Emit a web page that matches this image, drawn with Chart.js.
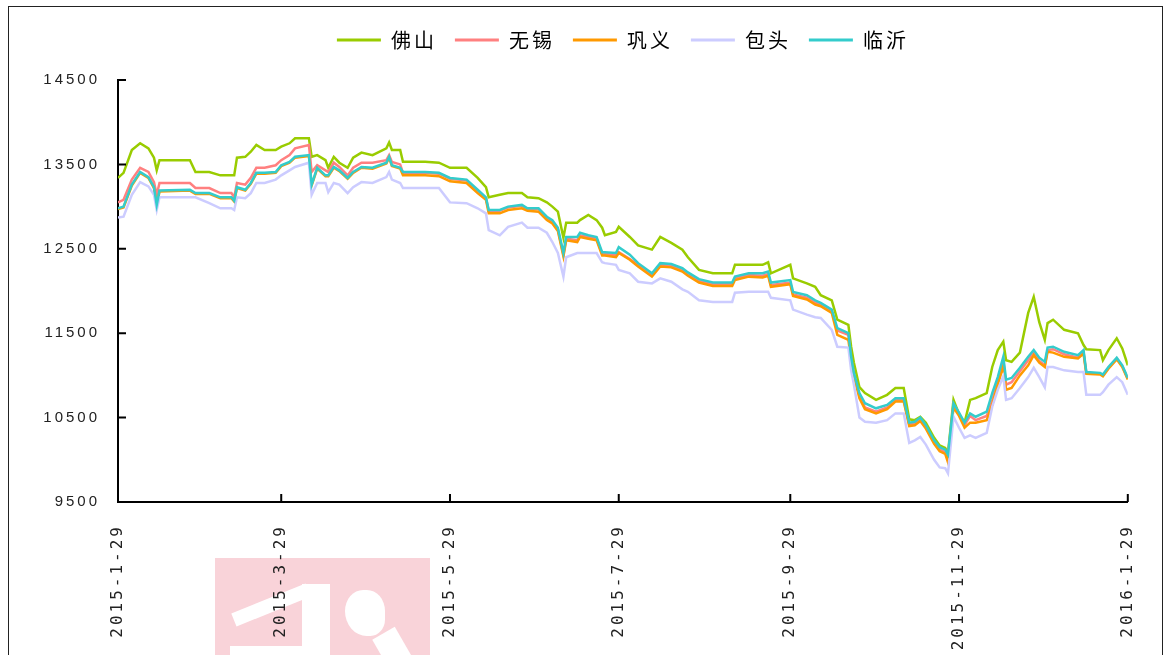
<!DOCTYPE html>
<html>
<head>
<meta charset="utf-8">
<script src="https://cdn.jsdelivr.net/npm/chart.js@4.4.0/dist/chart.umd.min.js"></script>
<style>
  html, body { margin: 0; padding: 0; background: #fff; }
  body { width: 1169px; height: 655px; position: relative; overflow: hidden; }
  #frame { position: absolute; left: 8px; top: 6px; width: 1155px; height: 720px; border: 1.5px solid #222; box-sizing: border-box; }
  #mark { position: absolute; left: 215px; top: 558px; width: 215px; height: 100px; background: #f9d3d9; overflow: hidden; }
  #mark div { position: absolute; background: #fff; }
  #wrap { position: absolute; left: 0; top: 0; }
</style>
</head>
<body>
<div id="mark">
  <div style="left:16px;top:40px;width:80px;height:14px;transform:rotate(-22deg);"></div>
  <div style="left:87px;top:26px;width:28px;height:90px;"></div>
  <div style="left:15px;top:88px;width:74px;height:14px;"></div>
  <div style="left:130px;top:32px;width:40px;height:46px;border-radius:50% 50% 40% 60%;"></div>
  <div style="left:168px;top:72px;width:26px;height:50px;transform:rotate(-30deg);"></div>
</div>
<div id="frame"></div>
<div id="wrap"><canvas id="priceChart" width="1169" height="655"></canvas></div>
<script>
// days after 2015-1-29
const days = [0, 2, 5, 8, 11, 13, 14, 15, 26, 28, 33, 37, 41, 42, 43, 46, 48, 50, 53, 57,
  59, 62, 64, 69, 70, 72, 75, 76, 78, 80, 83, 85, 88, 92, 97, 98, 99, 102, 103, 111,
  116, 120, 126, 130, 133, 134, 138, 141, 146, 148, 152, 155, 157, 159, 161, 162, 166, 167, 170, 173,
  175, 176, 180, 181, 185, 188, 193, 196, 200, 204, 206, 210, 215, 222, 223, 228, 233, 235, 236, 243,
  244, 249, 252, 254, 258, 260, 264, 265, 266, 268, 270, 274, 278, 281, 284, 286, 288, 290, 292, 295,
  297, 299, 300, 302, 304, 306, 308, 310, 314, 316, 318, 320, 321, 323, 326, 329, 331, 333, 335, 336,
  338, 342, 347, 349, 350, 355, 356, 358, 361, 363, 365];

const foshan = [13340, 13400, 13670, 13750, 13690, 13580, 13430, 13550, 13550, 13410, 13410, 13370, 13370, 13370, 13580, 13590, 13650, 13730, 13670, 13670,
  13710, 13750, 13810, 13810, 13590, 13610, 13550, 13460, 13590, 13520, 13460, 13580, 13640, 13610, 13690, 13760, 13670, 13670, 13530, 13530,
  13520, 13460, 13460, 13340, 13230, 13110, 13140, 13160, 13160, 13110, 13100, 13050, 13000, 12940, 12630, 12810, 12810, 12840, 12900, 12840,
  12750, 12660, 12700, 12760, 12640, 12540, 12490, 12640, 12570, 12490, 12400, 12250, 12210, 12210, 12310, 12310, 12310, 12340, 12210, 12310,
  12150, 12090, 12050, 11950, 11890, 11660, 11600, 11340, 11150, 10860, 10790, 10710, 10770, 10850, 10850, 10480, 10470, 10510, 10440, 10260,
  10170, 10140, 10080, 10710, 10540, 10440, 10710, 10730, 10790, 11100, 11300, 11400, 11180, 11160, 11270, 11740, 11930, 11630, 11420, 11620,
  11660, 11540, 11500, 11360, 11310, 11300, 11180, 11300, 11440, 11320, 11120];

const wuxi = [13050, 13080, 13320, 13460, 13410, 13290, 13140, 13280, 13280, 13220, 13220, 13160, 13160, 13110, 13280, 13260, 13340, 13460, 13460, 13490,
  13550, 13610, 13690, 13730, 13410, 13490, 13430, 13410, 13520, 13470, 13370, 13460, 13520, 13520, 13550, 13610, 13530, 13500, 13400, 13400,
  13390, 13330, 13310, 13190, 13100, 12950, 12950, 12990, 13010, 12970, 12970, 12860, 12820, 12730, 12430, 12620, 12600, 12660, 12640, 12620,
  12440, 12440, 12420, 12460, 12380, 12310, 12190, 12310, 12300, 12250, 12200, 12120, 12080, 12080, 12150, 12190, 12180, 12200, 12070, 12100,
  11960, 11920, 11860, 11840, 11760, 11530, 11480, 11200, 11010, 10760, 10620, 10570, 10620, 10710, 10710, 10420, 10430, 10480, 10390, 10210,
  10120, 10090, 10030, 10650, 10540, 10410, 10520, 10470, 10520, 10700, 10940, 11180, 10890, 10920, 11050, 11180, 11270, 11170, 11120, 11300,
  11310, 11250, 11210, 11280, 11030, 11020, 11000, 11090, 11200, 11110, 10960];

const gongyi = [12970, 12990, 13250, 13400, 13340, 13220, 13010, 13180, 13190, 13150, 13150, 13100, 13100, 13060, 13220, 13190, 13270, 13390, 13390, 13400,
  13480, 13520, 13580, 13600, 13250, 13450, 13360, 13360, 13460, 13420, 13330, 13400, 13460, 13450, 13510, 13580, 13480, 13450, 13370, 13370,
  13360, 13300, 13280, 13160, 13080, 12920, 12920, 12960, 12980, 12950, 12940, 12840, 12800, 12710, 12410, 12600, 12580, 12640, 12620, 12600,
  12420, 12420, 12400, 12450, 12370, 12290, 12170, 12290, 12280, 12230, 12180, 12100, 12060, 12060, 12130, 12170, 12160, 12180, 12050, 12080,
  11940, 11900, 11840, 11820, 11740, 11480, 11420, 11180, 10990, 10730, 10600, 10550, 10600, 10690, 10690, 10400, 10410, 10460, 10370, 10190,
  10100, 10070, 9970, 10620, 10520, 10380, 10440, 10440, 10470, 10650, 10890, 11110, 10830, 10850, 11000, 11120, 11240, 11150, 11100, 11280,
  11270, 11220, 11200, 11260, 11020, 11010, 10990, 11080, 11190, 11100, 10950];

const baotou = [12870, 12880, 13140, 13290, 13240, 13140, 12960, 13110, 13110, 13110, 13040, 12980, 12980, 12960, 13110, 13100, 13160, 13280, 13280, 13320,
  13370, 13430, 13470, 13520, 13140, 13280, 13280, 13170, 13280, 13260, 13160, 13230, 13290, 13280, 13350, 13410, 13320, 13280, 13220, 13220,
  13220, 13050, 13040, 12980, 12920, 12720, 12660, 12760, 12810, 12750, 12750, 12690, 12580, 12450, 12170, 12400, 12450, 12450, 12450, 12450,
  12340, 12330, 12310, 12250, 12210, 12110, 12090, 12150, 12110, 12020, 11990, 11890, 11870, 11870, 11980, 11990, 11990, 11990, 11920, 11890,
  11780, 11720, 11690, 11680, 11540, 11340, 11330, 11060, 10890, 10500, 10450, 10440, 10470, 10550, 10550, 10200, 10230, 10270, 10180, 10000,
  9910, 9900, 9840, 10510, 10380, 10260, 10290, 10260, 10320, 10630, 10830, 10990, 10710, 10730, 10850, 10980, 11090, 10980, 10860, 11100,
  11100, 11060, 11040, 11040, 10770, 10770, 10800, 10890, 10980, 10920, 10770];

const linyi = [12980, 13000, 13260, 13410, 13350, 13230, 13020, 13190, 13200, 13160, 13160, 13110, 13110, 13070, 13230, 13200, 13280, 13400, 13400, 13410,
  13490, 13530, 13590, 13610, 13260, 13460, 13370, 13370, 13470, 13430, 13340, 13410, 13470, 13460, 13520, 13590, 13490, 13460, 13410, 13410,
  13400, 13340, 13320, 13200, 13110, 12960, 12960, 13000, 13020, 12980, 12980, 12880, 12840, 12750, 12450, 12640, 12640, 12690, 12660, 12640,
  12460, 12460, 12450, 12520, 12430, 12330, 12210, 12330, 12320, 12270, 12220, 12140, 12100, 12100, 12170, 12210, 12210, 12230, 12100, 12130,
  11990, 11950, 11890, 11860, 11780, 11560, 11500, 11220, 11030, 10790, 10670, 10610, 10650, 10730, 10730, 10440, 10450, 10500, 10410, 10230,
  10150, 10120, 10060, 10670, 10560, 10440, 10550, 10510, 10570, 10790, 10980, 11220, 10950, 10970, 11090, 11220, 11300, 11210, 11160, 11330,
  11340, 11280, 11240, 11300, 11040, 11030, 11010, 11100, 11210, 11120, 10970];

const tickDays = [0, 59, 120, 181, 243, 304, 365];
const tickLabels = ['2015-1-29', '2015-3-29', '2015-5-29', '2015-7-29', '2015-9-29', '2015-11-29', '2016-1-29'];
const yTicks = [9500, 10500, 11500, 12500, 13500, 14500];

const pts = arr => arr.map((v, i) => ({ x: days[i], y: v }));

// letter spacing like the original bitmap font
const spacing = {
    id: 'spacing',
    beforeLayout(chart) { chart.ctx.letterSpacing = '3px'; },
    beforeDraw(chart) { chart.ctx.letterSpacing = '3px'; }
};

// legend box taller so the plot starts lower
const legendGap = {
    id: 'legendGap',
    beforeInit(chart) {
        const fit = chart.legend.fit;
        chart.legend.fit = function () {
            fit.call(this);
            this.height = 68;
        };
    }
};

// tick marks pointing inward
const innerTicks = {
    id: 'innerTicks',
    afterDraw(chart) {
        const { ctx, chartArea, scales } = chart;
        ctx.save();
        ctx.strokeStyle = '#000';
        ctx.lineWidth = 2;
        ctx.beginPath();
        scales.x.ticks.forEach(t => {
            const px = scales.x.getPixelForValue(t.value);
            ctx.moveTo(px, chartArea.bottom);
            ctx.lineTo(px, chartArea.bottom - 8);
        });
        scales.y.ticks.forEach(t => {
            const py = scales.y.getPixelForValue(t.value);
            ctx.moveTo(chartArea.left, py);
            ctx.lineTo(chartArea.left + 8, py);
        });
        ctx.stroke();
        ctx.restore();
    }
};

const line = (label, data, color, order) => ({
    label, data: pts(data), borderColor: color, backgroundColor: color,
    borderWidth: 2.5, pointRadius: 0, tension: 0, order
});

new Chart(document.getElementById('priceChart'), {
    type: 'line',
    data: {
        datasets: [
            line('佛山', foshan, '#99cc00', 5),
            line('无锡', wuxi, '#ff8080', 4),
            line('巩义', gongyi, '#ff9900', 3),
            line('包头', baotou, '#ccccff', 2),
            line('临沂', linyi, '#33cccc', 1)
        ]
    },
    options: {
        responsive: false,
        animation: false,
        events: [],
        layout: { padding: { top: 12, right: 40, bottom: 0, left: 0 } },
        plugins: {
            legend: {
                position: 'top',
                fullSize: false,
                labels: {
                    usePointStyle: true,
                    pointStyleWidth: 44,
                    padding: 18,
                    color: '#000',
                    font: { family: '"Noto Sans CJK SC", sans-serif', size: 20 },
                    generateLabels: chart => chart.data.datasets.map((ds, i) => ({
                        text: ds.label, strokeStyle: ds.borderColor, fillStyle: ds.borderColor,
                        lineWidth: 3, pointStyle: 'line', datasetIndex: i, hidden: false
                    }))
                }
            },
            tooltip: { enabled: false }
        },
        scales: {
            x: {
                type: 'linear',
                min: 0,
                max: 365,
                afterBuildTicks: s => { s.ticks = tickDays.map(v => ({ value: v })); },
                afterFit: s => { s.height = 153; },
                grid: { display: true, drawOnChartArea: false, drawTicks: false },
                border: { display: true, color: '#000', width: 2 },
                ticks: {
                    autoSkip: false,
                    minRotation: 90,
                    maxRotation: 90,
                    padding: 22,
                    color: '#222',
                    font: { family: '"DejaVu Sans Mono", monospace', size: 16 },
                    callback: (v, i) => tickLabels[i]
                }
            },
            y: {
                min: 9500,
                max: 14500,
                afterBuildTicks: s => { s.ticks = yTicks.map(v => ({ value: v })); },
                afterFit: s => { s.width = 118; },
                grid: { display: true, drawOnChartArea: false, drawTicks: false },
                border: { display: true, color: '#000', width: 2 },
                ticks: {
                    padding: 18,
                    color: '#222',
                    font: { family: '"Liberation Sans", sans-serif', size: 15 },
                    callback: v => String(v)
                }
            }
        }
    },
    plugins: [spacing, legendGap, innerTicks]
});
</script>
</body>
</html>
